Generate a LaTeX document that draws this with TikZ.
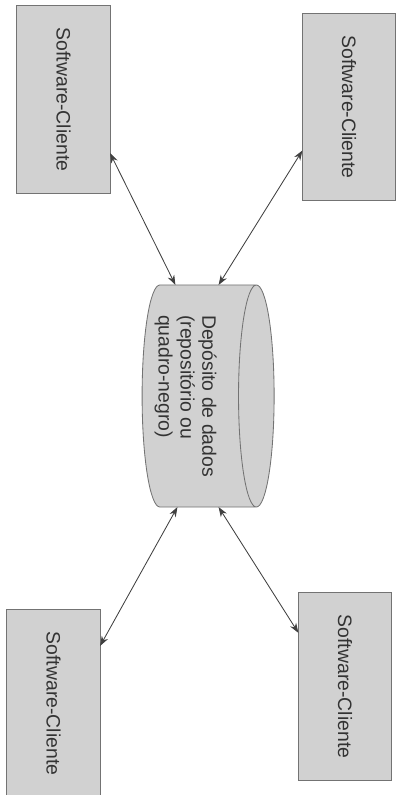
\documentclass[tikz,border=0pt]{standalone}
\usepackage{fontspec}
\setmainfont{Liberation Sans}
\usetikzlibrary{shapes.geometric,arrows.meta}

\begin{document}
\begin{tikzpicture}[
      x=0.025cm, y=-0.025cm,
      line width=.6pt,
      font=\fontsize{13.8}{15.6}\selectfont,
      client/.style={draw=black!55, fill=black!18, text=black!80,
        minimum width=2.33cm, minimum height=4.68cm, inner sep=0pt, outer sep=0pt},
      store/.style={cylinder, draw=black!55, fill=black!18, text=black!80,
        shape border rotate=0, aspect=0.22,
        minimum width=5.55cm, minimum height=3.3cm, inner sep=0pt, outer sep=0pt},
      link/.style={draw=black!75, {Stealth[length=7pt,width=5pt]}-{Stealth[length=7pt,width=5pt]}}]

    % page frame
    \useasboundingbox (0,0) rectangle (396,795);

    % clients
    \node (tl) at (63.5,99.5) [client] {\rotatebox{-90}{Software-Cliente}};
    \node (tr) at (349,107) [client] {\rotatebox{-90}{Software-Cliente}};
    \node (bl) at (53.5,703.5) [client] {\rotatebox{-90}{Software-Cliente}};
    \node (br) at (345,686.5) [client] {\rotatebox{-90}{Software-Cliente}};

    % data store
    \node (db) at (199,396) [store] {\hspace*{-20pt}\rotatebox{-90}{\begin{tabular}{@{}l@{}}Depósito de dados\\(repositório ou\\quadro-negro)\end{tabular}}};

    % wiring
    \draw[link] (tl.-49) -- (db.102);
    \draw[link] (tr.-137) -- (db.80);
    \draw[link] (bl.51) -- (db.259);
    \draw[link] (br.131) -- (db.-80);

  \end{tikzpicture}
\end{document}
